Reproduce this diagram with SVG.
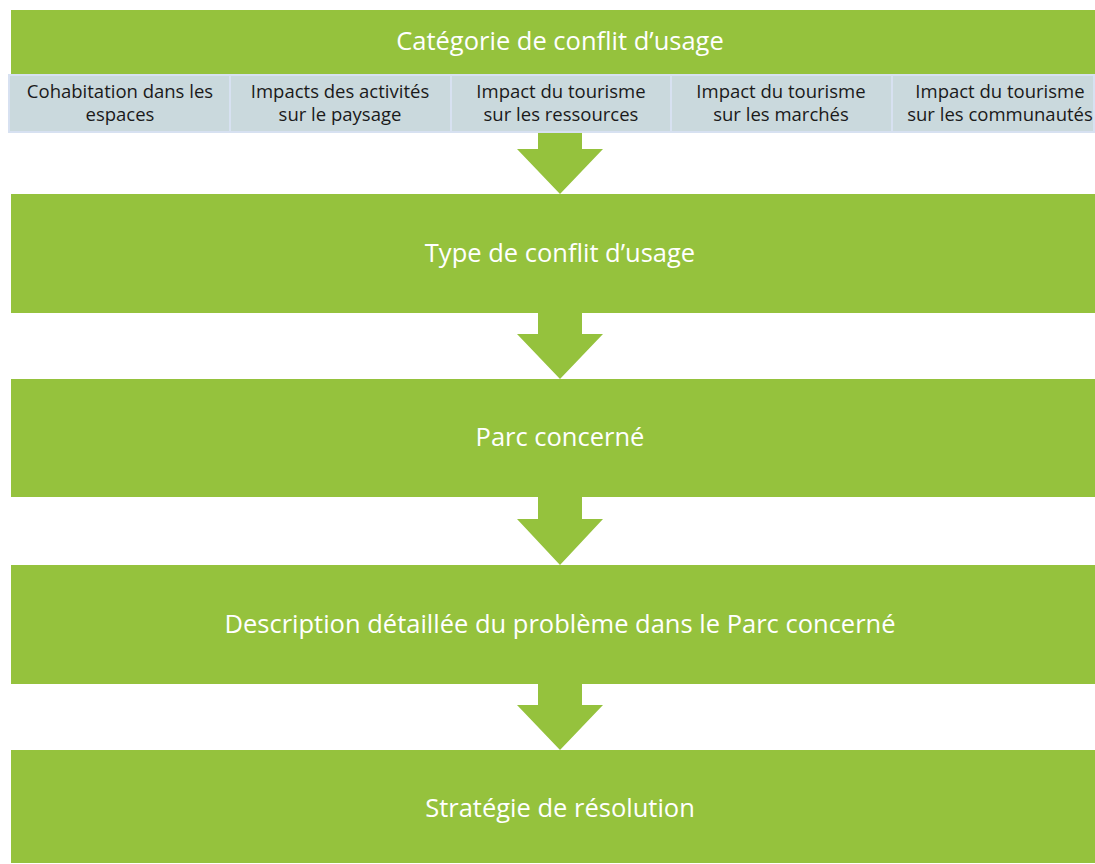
<svg xmlns="http://www.w3.org/2000/svg" width="1095" height="864" viewBox="0 0 1095 864">
<style>
.box{fill:#95C23D}
.cell{fill:#CAD9DD;stroke:#D7E1F1;stroke-width:2}
.arr{fill:#95C23D}
.t{font-family:"Open Sans",Lato,sans-serif;fill:#ffffff;font-size:25.5px;text-anchor:middle}
.c{font-family:"Open Sans",Lato,sans-serif;fill:#1a1a1a;font-size:18.5px;text-anchor:middle}
</style>
<rect width="1095" height="864" fill="#ffffff"/>
<g id="categorie">
<rect class="box" x="11" y="10" width="1084" height="64"/>
<text class="t" x="560" y="50">Catégorie de conflit d’usage</text>
</g>
<g id="cell1">
<rect class="cell" x="9" y="75" width="221" height="57"/>
<text class="c" x="120" y="98">Cohabitation dans les</text>
<text class="c" x="120" y="121">espaces</text>
</g>
<g id="cell2">
<rect class="cell" x="230" y="75" width="221" height="57"/>
<text class="c" x="340" y="98">Impacts des activités</text>
<text class="c" x="340" y="121">sur le paysage</text>
</g>
<g id="cell3">
<rect class="cell" x="451" y="75" width="220" height="57"/>
<text class="c" x="561" y="98">Impact du tourisme</text>
<text class="c" x="561" y="121">sur les ressources</text>
</g>
<g id="cell4">
<rect class="cell" x="671" y="75" width="221" height="57"/>
<text class="c" x="781" y="98">Impact du tourisme</text>
<text class="c" x="781" y="121">sur les marchés</text>
</g>
<g id="cell5">
<rect class="cell" x="892" y="75" width="202" height="57"/>
<text class="c" x="1000" y="98">Impact du tourisme</text>
<text class="c" x="1000" y="121">sur les communautés</text>
</g>
<g id="connectors">
<polygon class="arr" points="538,133 582,133 582,149 603,149 560,194 517,149 538,149"/>
<polygon class="arr" points="538,313 582,313 582,334 603,334 560,379 517,334 538,334"/>
<polygon class="arr" points="538,497 582,497 582,519 603,519 560,565 517,519 538,519"/>
<polygon class="arr" points="538,684 582,684 582,705 603,705 560,750 517,705 538,705"/>
</g>
<g id="type">
<rect class="box" x="11" y="194" width="1084" height="119"/>
<text class="t" x="560" y="262">Type de conflit d’usage</text>
</g>
<g id="parc">
<rect class="box" x="11" y="379" width="1084" height="118"/>
<text class="t" x="560" y="446">Parc concerné</text>
</g>
<g id="description">
<rect class="box" x="11" y="565" width="1084" height="119"/>
<text class="t" x="560" y="633">Description détaillée du problème dans le Parc concerné</text>
</g>
<g id="strategie">
<rect class="box" x="11" y="750" width="1084" height="113"/>
<text class="t" x="560" y="817">Stratégie de résolution</text>
</g>
</svg>
